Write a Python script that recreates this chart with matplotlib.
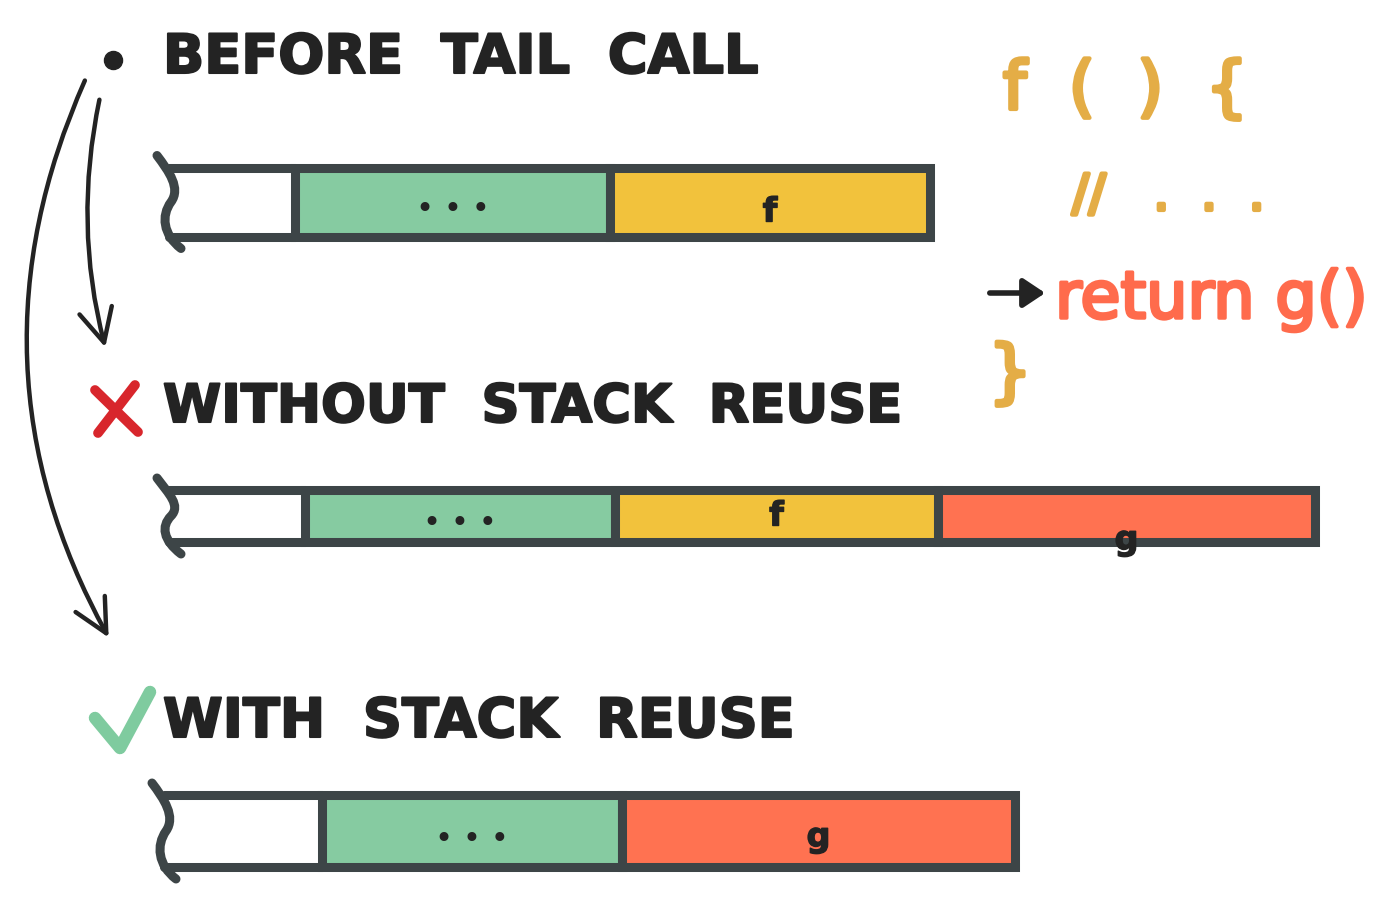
import matplotlib
matplotlib.use("Agg")
import matplotlib.pyplot as plt
import matplotlib.patheffects as pe
from matplotlib.patches import FancyArrowPatch, PathPatch
from matplotlib.path import Path

# stack frames (labels, widths in px) for the three situations
titles = ["BEFORE  TAIL  CALL", "WITHOUT  STACK  REUSE", "WITH  STACK  REUSE"]
before_frames = ["", "...", "f"]
before_widths = [120, 315, 320]
without_frames = ["", "...", "f", "g"]
without_widths = [130, 310, 323, 377]
with_frames = ["", "...", "g"]
with_widths = [152, 300, 393]

code_lines = ["f  (  )  {", "//   .  .  .", "return g()", "}"]

INK = "#232323"
BORDER = "#3d4547"
GREEN = "#86cba1"
YELLOW = "#f2c23c"
RED = "#ff7251"
CODE_YEL = "#e4ad46"
CODE_RED = "#ff6b4c"
frame_color = {"": "white", "...": GREEN, "f": YELLOW, "g": RED}


def marker_text(ax, x, y, s, size, color, lw=1.5, weight="bold", **kw):
    t = ax.text(x, y, s, fontsize=size, color=color, fontweight=weight, **kw)
    t.set_path_effects([pe.withStroke(linewidth=lw, foreground=color)])
    return t


def draw_stack(ax, left, yc, h, frames, widths, label_dy):
    lefts = [left]
    for w in widths[:-1]:
        lefts.append(lefts[-1] + w)
    colors = [frame_color[f] for f in frames]
    # coloured frames
    ax.barh([yc] * len(widths[1:]), widths[1:], left=lefts[1:], height=h,
            color=colors[1:], edgecolor=BORDER, linewidth=6.5, zorder=2)
    # open-ended white part
    ax.barh([yc], widths[:1], left=lefts[:1], height=h, color="white",
            linewidth=0, zorder=1)
    top, bot = yc - h / 2, yc + h / 2
    ax.plot([left - 6, lefts[1]], [top, top], color=BORDER, lw=6.5,
            solid_capstyle="round", zorder=3)
    ax.plot([left - 6, lefts[1]], [bot, bot], color=BORDER, lw=6.5,
            solid_capstyle="round", zorder=3)
    # wavy brace on the left end
    x0 = left
    verts = [(x0 - 18, top - 12),
             (x0 - 6, top + 4), (x0 + 6, top + 0.3 * h), (x0 - 4, top + 0.5 * h),
             (x0 - 14, top + 0.7 * h), (x0 - 12, bot - 2), (x0 + 6, bot + 12)]
    codes = [Path.MOVETO] + [Path.CURVE4] * 6
    ax.add_patch(PathPatch(Path(verts, codes), fill=False, edgecolor=BORDER,
                           lw=6.5, capstyle="round", zorder=3))
    for f, l, w in zip(frames, lefts, widths):
        if f == "...":
            ax.text(l + w / 2, yc + 8, "\u2022 \u2022 \u2022", fontsize=22,
                    color=INK, ha="center", va="center", zorder=4)
        elif f:
            marker_text(ax, l + w / 2, yc + label_dy[f], f, 24, INK, lw=1,
                        ha="center", va="center", zorder=4)


fig = plt.figure(figsize=(14, 9.1), dpi=100)
ax = fig.add_axes([0, 0, 1, 1])
ax.set_xlim(0, 1400)
ax.set_ylim(910, 0)
ax.axis("off")

# headings
ax.plot([113], [60], "o", color=INK, ms=13)
marker_text(ax, 163, 58, titles[0], 39, INK, va="center", ha="left")
marker_text(ax, 163, 407, titles[1], 38, INK, va="center", ha="left")
marker_text(ax, 163, 722, titles[2], 39, INK, va="center", ha="left")

# red cross and green tick
ax.plot([95, 138], [390, 432], color="#d8262c", lw=7, solid_capstyle="round")
ax.plot([135, 98], [385, 433], color="#d8262c", lw=7, solid_capstyle="round")
ax.plot([95, 120, 150], [718, 748, 692], color="#7fcb9f", lw=9,
        solid_capstyle="round", solid_joinstyle="round")

# stacks
draw_stack(ax, 175, 202, 69, before_frames, before_widths, {"f": 10})
draw_stack(ax, 175, 516, 52, without_frames, without_widths, {"f": 0, "g": 24})
draw_stack(ax, 170, 831, 72, with_frames, with_widths, {"g": 6})

# curved arrows on the left
for start, end, rad in [((100, 97), (106, 350), 0.12),
                        ((86, 78), (110, 640), 0.25)]:
    ax.add_patch(FancyArrowPatch(start, end, connectionstyle=f"arc3,rad={rad}",
                                 arrowstyle="->,head_length=0.8,head_width=0.4",
                                 mutation_scale=30, color=INK, lw=3.2))

# code snippet
marker_text(ax, 1003, 90, code_lines[0], 48, CODE_YEL, lw=3, weight="normal",
            va="center", ha="left")
marker_text(ax, 1072, 196, code_lines[1], 36, CODE_YEL, lw=3, weight="normal",
            va="center", ha="left")
marker_text(ax, 1055, 300, code_lines[2], 47, CODE_RED, lw=2.5, weight="normal",
            va="center", ha="left")
marker_text(ax, 988, 375, code_lines[3], 50, CODE_YEL, lw=3, weight="normal",
            va="center", ha="left")
ax.annotate("", xy=(1048, 293), xytext=(987, 293),
            arrowprops=dict(arrowstyle="-|>,head_length=0.6,head_width=0.4",
                            mutation_scale=22, color=INK, lw=4))

fig.savefig("out.png", dpi=100)
